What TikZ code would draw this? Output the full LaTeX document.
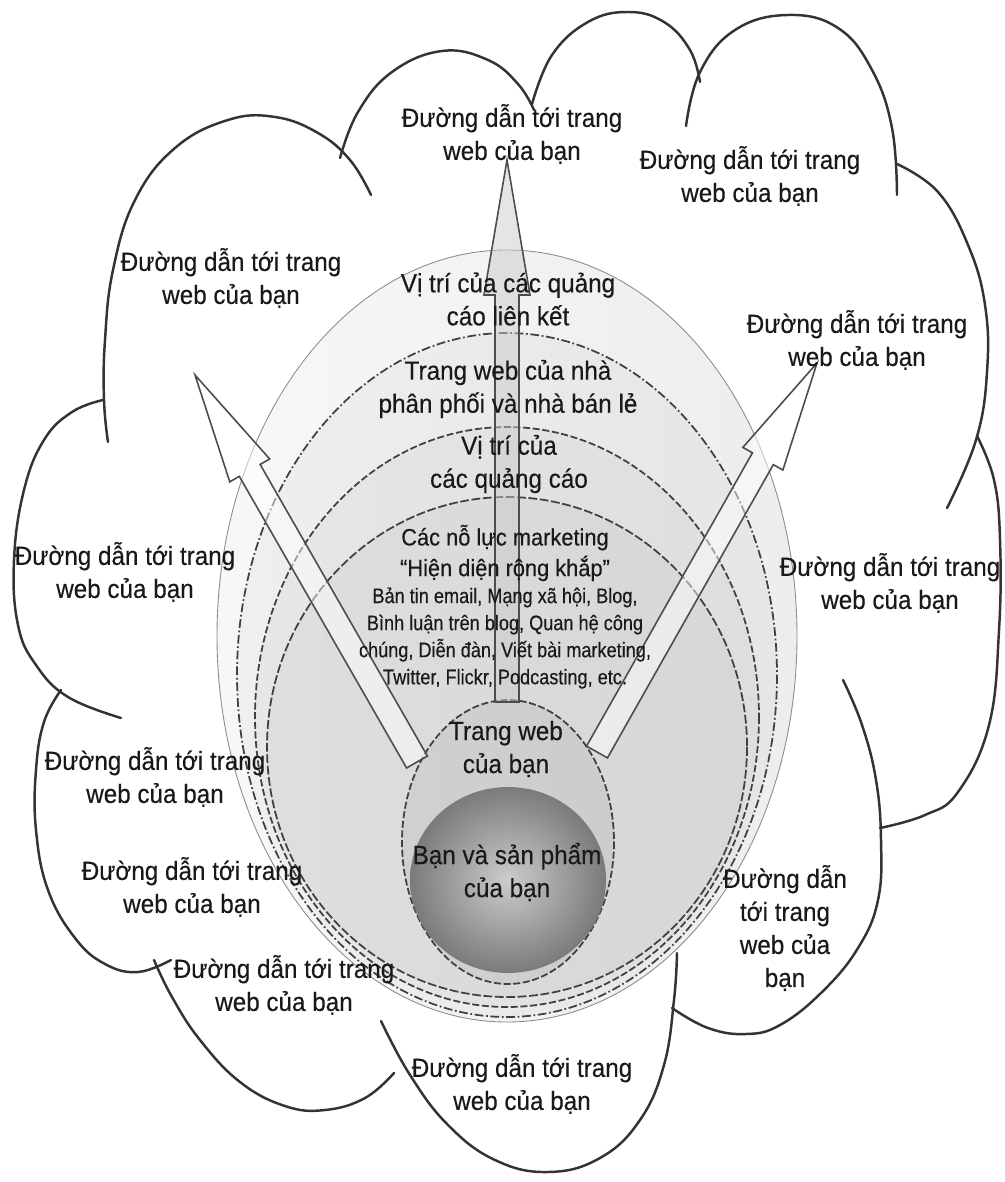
\documentclass[tikz,border=0pt]{standalone}
\usepackage{fontspec}
\setmainfont{Liberation Sans}[FakeStretch=0.92, FakeBold=0.3]
\newfontfamily\narrowfont{Liberation Sans}[FakeStretch=0.86, FakeBold=0.3]
\usetikzlibrary{calc}

\newcommand{\linktext}{Đường dẫn tới trang\\web của bạn}
% block arrow: style, start, tip, head length
\newcommand{\blockarrow}[4]{%
  \coordinate (#3-base) at ($(#3)!#4!(#2)$);
  \draw[#1] ($(#2)!0.24cm!90:(#3)$) -- ($(#3-base)!0.24cm!90:(#3)$)
    -- ($(#3-base)!0.46cm!90:(#3)$) -- (#3) -- ($(#3-base)!0.46cm!-90:(#3)$)
    -- ($(#3-base)!0.24cm!-90:(#3)$) -- ($(#2)!0.24cm!-90:(#3)$) -- cycle;}

\begin{document}
\begin{tikzpicture}[x=0.02cm, y=-0.02cm]
% Define styles
\tikzstyle{cloudline}=[draw=black!80, line width=1.4pt, line cap=round]
\tikzstyle{lbl}=[align=center, inner sep=0pt, text=black!90, font=\fontsize{15}{18.8}\selectfont]
\tikzstyle{ring}=[draw=black!75, line width=1pt]
\tikzstyle{blockarr}=[draw=black!70, line width=0.9pt, fill=white, fill opacity=0.5]

\useasboundingbox (0,0) rectangle (1004,1182);

% Cloud outline, one lobe at a time
\draw[cloudline] plot[smooth, tension=0.7] coordinates {(108,442) (104,400) (105,340) (113,270) (135,200) (175,148) (228,120) (275,117) (318,133) (350,160) (371,195)};
\draw[cloudline] plot[smooth, tension=0.7] coordinates {(340,158) (358,112) (392,72) (442,51) (488,60) (518,84) (534,110)};
\draw[cloudline] plot[smooth, tension=0.7] coordinates {(532,104) (552,55) (588,22) (628,12) (664,22) (690,50) (700,82)};
\draw[cloudline] plot[smooth, tension=0.7] coordinates {(686,126) (700,72) (735,30) (788,15) (838,28) (872,70) (892,128) (897,195)};
\draw[cloudline] plot[smooth, tension=0.7] coordinates {(897,164) (938,192) (968,245) (985,305) (987,372) (976,440) (947,508)};
\draw[cloudline] plot[smooth, tension=0.7] coordinates {(977,436) (994,480) (1000,540) (999,630) (989,725) (958,792) (925,815) (880,828)};
\draw[cloudline] plot[smooth, tension=0.7] coordinates {(843,680) (862,725) (876,780) (881,840) (878,900) (858,948) (822,992) (780,1025) (746,1034) (708,1028) (672,1008)};
\draw[cloudline] plot[smooth, tension=0.7] coordinates {(677,953) (674,1000) (664,1065) (640,1120) (600,1158) (548,1172) (495,1160) (448,1125) (410,1075) (381,1021)};
\draw[cloudline] plot[smooth, tension=0.7] coordinates {(394,1073) (365,1098) (325,1110) (285,1106) (240,1082) (200,1040) (172,997) (154,960)};
\draw[cloudline] plot[smooth, tension=0.7] coordinates {(61,690) (44,722) (36,770) (36,830) (48,890) (75,938) (105,964) (138,972) (171,960)};
\draw[cloudline] plot[smooth, tension=0.7] coordinates {(103,400) (72,412) (44,440) (24,490) (14,560) (18,625) (36,665) (68,697) (121,718)};

% Nested layers
\draw[draw=black!45, line width=0.5pt, left color=black!3, middle color=black!17, right color=black!7] (507,636) ellipse [x radius=290, y radius=386];
\draw[ring, dash pattern=on 5pt off 1.5pt on 1pt off 1.5pt, fill=black, fill opacity=0.03] (507,675) ellipse [x radius=270, y radius=342];
\draw[ring, dash pattern=on 4pt off 1.5pt, fill=black, fill opacity=0.03] (507,717) ellipse [x radius=252, y radius=290];
\draw[ring, dash pattern=on 5pt off 1.5pt, fill=black, fill opacity=0.03] (507,747) ellipse [x radius=240, y radius=250];
\draw[ring, dash pattern=on 4pt off 1.5pt, fill=black, fill opacity=0.05] (508,842) ellipse [x radius=106, y radius=142];
\shade[inner color=black!20, outer color=black!52] (508,880) ellipse [x radius=98, y radius=93];

% Arrows out of your website
\coordinate (upStart) at (507,702);
\coordinate (upTip) at (507,160);
\coordinate (leftStart) at (417,762);
\coordinate (leftTip) at (195,375);
\coordinate (rightStart) at (597,752);
\coordinate (rightTip) at (817,363);
\blockarrow{blockarr, fill=black!20}{upStart}{upTip}{2.7cm}
\blockarrow{blockarr}{leftStart}{leftTip}{2.2cm}
\blockarrow{blockarr}{rightStart}{rightTip}{2.2cm}

% Layer labels
\node[lbl] (affiliate) at (508,299) {Vị trí của các quảng\\cáo liên kết};
\node[lbl] (dealers) at (508,389) {Trang web của nhà\\phân phối và nhà bán lẻ};
\node[lbl] (adverts) at (509,464) {Vị trí của\\các quảng cáo};
\node[lbl, font=\fontsize{13.5}{17.5}\selectfont] (mkTitle) at (505,553) {Các nỗ lực marketing\\“Hiện diện rộng khắp”};
\node[lbl, font=\narrowfont\fontsize{12}{15.4}\selectfont] (mkList) at (505,638) {Bản tin email, Mạng xã hội, Blog,\\Bình luận trên blog, Quan hệ công\\chúng, Diễn đàn, Viết bài marketing,\\Twitter, Flickr, Podcasting, etc.};
\node[lbl] (yourWeb) at (506,749) {Trang web\\của bạn};
\node[lbl] (you) at (507,872) {Bạn và sản phẩm\\của bạn};

% Links to your website
\node[lbl] (linkTop) at (512,134) {\linktext};
\node[lbl] (linkTopRight) at (750,176) {\linktext};
\node[lbl] (linkUpLeft) at (231,278) {\linktext};
\node[lbl] (linkUpRight) at (857,340) {\linktext};
\node[lbl] (linkLeft) at (125,572) {\linktext};
\node[lbl] (linkRight) at (890,583) {\linktext};
\node[lbl] (linkLowLeft) at (155,777) {\linktext};
\node[lbl] (linkLeftBottom) at (192,887) {\linktext};
\node[lbl] (linkBottomLeft) at (284,985) {\linktext};
\node[lbl] (linkBottom) at (522,1084) {\linktext};
\node[lbl] (linkLowRight) at (785,928) {Đường dẫn\\tới trang\\web của\\bạn};

\end{tikzpicture}
\end{document}
